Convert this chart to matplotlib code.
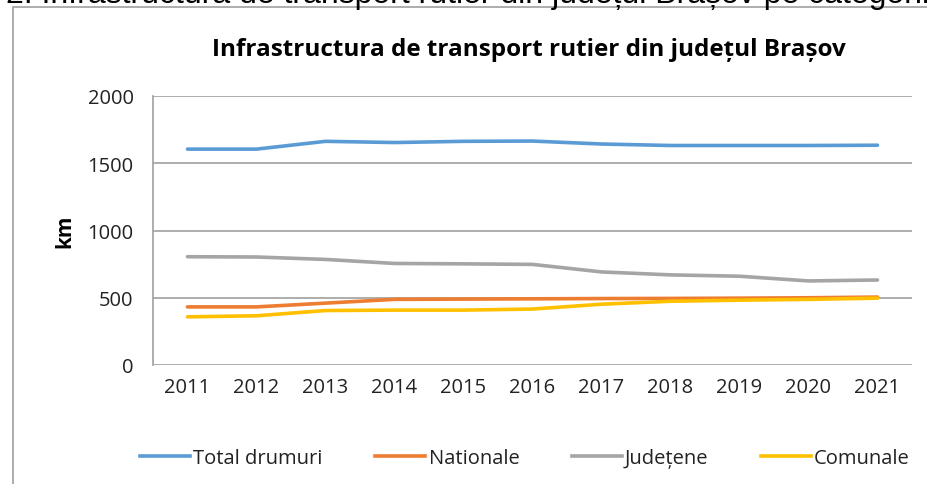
import matplotlib.pyplot as plt
from matplotlib.patches import Rectangle
from matplotlib.lines import Line2D

years = ["2011", "2012", "2013", "2014", "2015", "2016", "2017", "2018", "2019", "2020", "2021"]
total = [1605, 1605, 1663, 1654, 1663, 1665, 1643, 1632, 1632, 1632, 1634]
nationale = [432, 432, 460, 488, 490, 492, 494, 495, 497, 500, 505]
judetene = [805, 803, 785, 755, 752, 748, 692, 670, 660, 625, 632]
comunale = [358, 366, 405, 408, 408, 416, 452, 474, 482, 488, 497]

series = [("Total drumuri", total, "#5B9BD5"),
          ("Nationale", nationale, "#ED7D31"),
          ("Județene", judetene, "#A5A5A5"),
          ("Comunale", comunale, "#FFC000")]

W, H = 928, 485
fig = plt.figure(figsize=(W / 100, H / 100), dpi=100)
fig.patch.set_facecolor("white")

# outer border of the chart area
fig.patches.append(Rectangle((13 / W, -0.01), 1.0, 1 - 8 / H + 0.01, transform=fig.transFigure,
                             fill=False, edgecolor="#A0A0A0", linewidth=1.2))
# cut-off caption at top (as in the reference)
fig.text(6 / W, 1 - 3 / H, "2. Infrastructura de transport rutier din județul Brașov pe categorii",
         ha="left", va="baseline", fontsize=23, family="Liberation Sans", color="black")

ax = fig.add_axes([153 / W, 1 - 366 / H, (912 - 153) / W, (366 - 97) / H])
x = list(range(len(years)))
for name, vals, col in series:
    ax.plot(x, vals, color=col, linewidth=2.6, label=name, solid_capstyle="round")

ax.set_xlim(-0.5, len(years) - 0.5)
ax.set_ylim(0, 2000)
ax.set_yticks([0, 500, 1000, 1500, 2000])
ax.set_xticks(x)
ax.set_xticklabels(years)
ax.grid(axis="y", color="#A0A0A0", linewidth=1.2)
ax.set_axisbelow(True)
for s in ["top", "right", "bottom"]:
    ax.spines[s].set_visible(False)
ax.spines["left"].set_color("#A0A0A0")
ax.spines["left"].set_linewidth(1.2)
ax.tick_params(axis="both", length=0, labelsize=14.5, labelcolor="#222222")
ax.tick_params(axis="x", pad=9)
ax.tick_params(axis="y", pad=14)
for lab in ax.get_xticklabels() + ax.get_yticklabels():
    lab.set_family("Open Sans")

ax.set_ylabel("km", fontsize=15, fontweight="bold", family="Open Sans", labelpad=9)

fig.text(529 / W, 1 - 50 / H, "Infrastructura de transport rutier din județul Brașov",
         ha="center", va="center", fontsize=17.5, fontweight="bold", family="Open Sans")

handles = [Line2D([0], [0], color=c, linewidth=2.6) for _, _, c in series]
fig.legend(handles, [n for n, _, _ in series], loc="center", bbox_to_anchor=(525 / W, 1 - 459 / H),
           ncol=4, frameon=False, prop={"family": "Open Sans", "size": 14.5}, handlelength=2.5,
           handletextpad=0.15, columnspacing=2.6, labelcolor="#222222")

fig.savefig("out.png", dpi=100)
